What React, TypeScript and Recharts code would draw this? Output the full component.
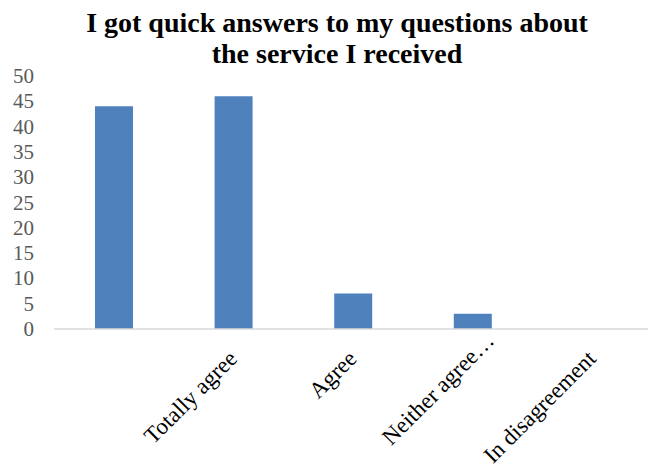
import { BarChart, Bar, XAxis, YAxis } from "recharts";

const categories = ["", "Totally agree", "Agree", "Neither agree…", "In disagreement"];
const responses = [44, 46, 7, 3, 0];
const yTicks = [0, 5, 10, 15, 20, 25, 30, 35, 40, 45, 50];

const data = categories.map((name, i) => ({ name, value: responses[i] }));

const serif = "Liberation Serif, Times New Roman, serif";

function YTick({ y, payload }: any) {
  return (
    <text x={34} y={y} dy={7} textAnchor="end" fill="#595959" fontSize={21} fontFamily={serif}>
      {payload.value}
    </text>
  );
}

function XTick({ x, y, payload }: any) {
  // truncated labels sit a bit further along the diagonal, like the Excel original
  const shift = String(payload.value).endsWith("…") ? 18 : 0;
  return (
    <text
      transform={`translate(${x + 5 + shift},${y + 29 - shift}) rotate(-45)`}
      textAnchor="end"
      fill="#000"
      fontSize={23}
      fontFamily={serif}
    >
      {payload.value}
    </text>
  );
}

export default function App() {
  return (
    <div style={{ position: "absolute", left: 0, top: 0, width: 648, height: 468, overflow: "hidden", background: "#fff" }}>
      <div
        style={{
          position: "absolute",
          top: 7,
          left: 0,
          width: 674,
          textAlign: "center",
          fontFamily: serif,
          fontWeight: "bold",
          fontSize: 28,
          lineHeight: "31px",
          color: "#000",
        }}
      >
        I got quick answers to my questions about
        <br />
        the service I received
      </div>
      <BarChart width={652} height={468} data={data} margin={{ top: 76, right: 0, left: 0, bottom: 0 }}>
        <XAxis
          dataKey="name"
          height={139}
          tickSize={0}
          tickLine={false}
          axisLine={{ stroke: "#d9d9d9", strokeWidth: 1.5 }}
          tick={<XTick />}
          interval={0}
        />
        <YAxis
          width={54}
          domain={[0, 50]}
          ticks={yTicks}
          axisLine={false}
          tickLine={false}
          tick={<YTick />}
          interval={0}
        />
        <Bar dataKey="value" fill="#4f81bd" barSize={38} isAnimationActive={false} />
      </BarChart>
    </div>
  );
}
